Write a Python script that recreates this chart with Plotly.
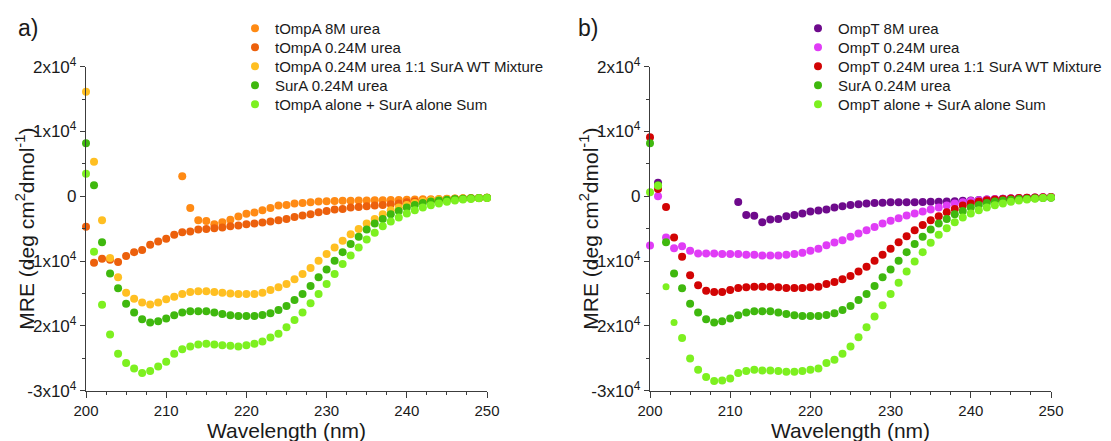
import plotly.graph_objects as go

# Wavelength axis (nm), one reading per nm
wavelength = list(range(200, 251))

# ---- Panel a) tOmpA / SurA ----
tompa_8m = [None] * 12 + [
    3100, -1800, -3700, -3800, -4300, -4000, -3600, -3100, -2700, -2500,
    -2150, -1800, -1430, -1350, -1130, -1030, -920, -820, -770, -720,
    -700, -680, -650, -640, -620, -600, -580, -560, -540, -500,
    -470, -440, -410, -380, -350, -320, -290, -260, -230]
tompa_024m = [
    -4700, -10260, -9640, -9800, -10150, -9230, -8620, -8300, -7490, -6970,
    -6560, -5950, -5540, -5440, -5130, -5030, -4920, -4820, -4620, -4500,
    -4300, -4200, -4050, -3900, -3700, -3490, -3180, -2980, -2770, -2460,
    -2260, -2050, -1950, -1740, -1640, -1540, -1430, -1330, -1230, -1130,
    -920, -800, -700, -600, -520, -450, -390, -340, -300, -260, -230]
tompa_sura_mix = [
    16150, 5340, -3690, -9540, -12500, -14870, -15800, -16400, -16700, -16400,
    -15900, -15490, -15080, -14770, -14670, -14670, -14770, -14870, -15000, -15080,
    -15080, -15080, -14870, -14460, -14050, -13540, -12820, -12000, -11080, -9950,
    -8920, -7900, -6870, -5850, -5030, -4200, -3490, -2770, -2150, -1740,
    -1330, -1030, -720, -600, -500, -440, -390, -340, -300, -260, -230]
sura_024m = [
    8200, 1700, -7100, -11900, -14200, -16600, -17950, -18970, -19490, -19280,
    -18870, -18360, -17950, -17740, -17740, -17740, -17950, -18150, -18360, -18460,
    -18460, -18460, -18300, -18050, -17540, -16920, -16000, -15080, -13850, -12510,
    -11280, -9950, -8620, -7380, -6260, -5130, -4200, -3490, -2770, -2260,
    -1740, -1330, -1030, -800, -650, -520, -430, -360, -300, -260, -220]
tompa_sura_sum = [
    3490, -8560, -16720, -21330, -24300, -25740, -26560, -27280, -26970, -26260,
    -25540, -24300, -23590, -23180, -22870, -22770, -22870, -22970, -23080, -23180,
    -22970, -22770, -22410, -21800, -21230, -20200, -19080, -17950, -16510, -15080,
    -13540, -12000, -10460, -9130, -7900, -6670, -5640, -4620, -3900, -3280,
    -2670, -2150, -1740, -1400, -1100, -850, -650, -500, -400, -320, -250]

# ---- Panel b) OmpT / SurA ----
ompt_8m = [None, 2100] + [None] * 9 + [
    -870, -2870, -3000, -4000, -3590, -3490, -3080, -2870, -2670, -2360,
    -2200, -2050, -1740, -1530, -1330, -1230, -1130, -1030, -1000, -920,
    -920, -900, -900, -880, -860, -840, -800, -760, -700, -640,
    -570, -500, -440, -390, -340, -290, -250, -210, -180, -150]
ompt_024m = [
    -7590, 0, -6360, -8000, -7690, -8410, -8820, -8820, -8820, -8920,
    -8920, -8920, -9030, -9030, -9130, -9130, -9130, -9030, -8920, -8720,
    -8410, -8100, -7540, -7130, -6770, -6260, -5740, -5230, -4720, -4200,
    -3790, -3380, -2970, -2670, -2360, -2050, -1740, -1430, -1130, -920,
    -720, -600, -500, -420, -360, -300, -250, -210, -180, -150, -120]
ompt_sura_mix = [
    9120, 1120, -1640, -6360, -9330, -12200, -13740, -14560, -14770, -14770,
    -14460, -14150, -14050, -13950, -13950, -13950, -14050, -14150, -14150, -14150,
    -14050, -13950, -13540, -13230, -12820, -12310, -11590, -10870, -9950, -9030,
    -8100, -7080, -6150, -5230, -4410, -3690, -3080, -2460, -1950, -1430,
    -1130, -820, -600, -480, -400, -330, -270, -220, -180, -150, -120]
ompt_sura_sum = [
    620, 1640, -13950, -19490, -21850, -25030, -26770, -27900, -28510, -28410,
    -28100, -27280, -26970, -26770, -26870, -26870, -26970, -27080, -27080, -26970,
    -26770, -26560, -25740, -25230, -24300, -23180, -21740, -20200, -18560, -16820,
    -15080, -13330, -11590, -10050, -8620, -7180, -5950, -4920, -4000, -3280,
    -2670, -2150, -1740, -1400, -1100, -850, -650, -500, -380, -280, -200]

y_tick_vals = [-30000, -20000, -10000, 0, 10000, 20000]
y_tick_text = ["-3x10<sup>4</sup>", "-2x10<sup>4</sup>", "-1x10<sup>4</sup>", "0",
               "1x10<sup>4</sup>", "2x10<sup>4</sup>"]

W, H = 1111, 441
FONT = "Liberation Sans, Arial, sans-serif"
AXIS_COLOR = "#3c3c3c"
TEXT_COLOR = "#1a1a1a"
MARKER_SIZE = 8


def fx(px):
    return px / W


def fy(py):
    return 1 - py / H


# the 202/203 nm readings of the OmpT sum trace are plotted with smaller dots
ompt_sum_sizes = [MARKER_SIZE] * len(wavelength)
for wl in (202, 203):
    ompt_sum_sizes[wavelength.index(wl)] = 7

panel_a = [
    ("tOmpA 8M urea", tompa_8m, "#FF8A14", MARKER_SIZE),
    ("tOmpA 0.24M urea", tompa_024m, "#EC600C", MARKER_SIZE),
    ("tOmpA 0.24M urea 1:1 SurA WT Mixture", tompa_sura_mix, "#FFBF22", MARKER_SIZE),
    ("SurA 0.24M urea", sura_024m, "#3FB80E", MARKER_SIZE),
    ("tOmpA alone + SurA alone Sum", tompa_sura_sum, "#7DF020", MARKER_SIZE),
]
panel_b = [
    ("OmpT 8M urea", ompt_8m, "#6E0A8C", MARKER_SIZE),
    ("OmpT 0.24M urea", ompt_024m, "#E03CF6", MARKER_SIZE),
    ("OmpT 0.24M urea 1:1 SurA WT Mixture", ompt_sura_mix, "#D20404", MARKER_SIZE),
    ("SurA 0.24M urea", sura_024m, "#3FB80E", MARKER_SIZE),
    ("OmpT alone + SurA alone Sum", ompt_sura_sum, "#7DF020", ompt_sum_sizes),
]

fig = go.Figure()
legend_layouts = {}
row_y0, row_dy = 28.5, 19.0
n = 0
for panel_idx, (series, sym_x) in enumerate([(panel_a, 254), (panel_b, 817)]):
    xa = "x" if panel_idx == 0 else "x2"
    ya = "y" if panel_idx == 0 else "y2"
    for i, (name, vals, color, size) in enumerate(series):
        n += 1
        lg = "legend" if n == 1 else f"legend{n}"
        fig.add_trace(go.Scatter(
            x=wavelength, y=vals, name=name, mode="markers",
            marker=dict(size=size, color=color, opacity=1, line=dict(width=0)),
            xaxis=xa, yaxis=ya, cliponaxis=False, legend=lg,
        ))
        legend_layouts[lg] = dict(
            x=fx(sym_x - 19), y=fy(row_y0 + row_dy * i),
            xanchor="left", yanchor="middle",
            bgcolor="rgba(0,0,0,0)", borderwidth=0,
            font=dict(family=FONT, size=15, color=TEXT_COLOR),
            itemsizing="trace",
        )

x_common = dict(
    range=[200, 250], showline=True, linecolor=AXIS_COLOR, linewidth=1.3,
    ticks="outside", ticklen=6, tickwidth=1.3, tickcolor=AXIS_COLOR,
    tickmode="linear", tick0=200, dtick=10,
    minor=dict(ticks="outside", ticklen=3.5, tickwidth=1.1, tickcolor=AXIS_COLOR,
               tickmode="linear", tick0=200, dtick=2.5),
    showgrid=False, zeroline=False, automargin=False,
    tickfont=dict(family=FONT, size=15, color=TEXT_COLOR),
)
y_common = dict(
    range=[-30000, 20000], domain=[fy(390.7), fy(66.7)],
    showline=True, linecolor=AXIS_COLOR, linewidth=1.3,
    ticks="outside", ticklen=5, tickwidth=1.3, tickcolor=AXIS_COLOR,
    tickmode="array", tickvals=y_tick_vals, ticktext=y_tick_text,
    minor=dict(ticks="outside", ticklen=3, tickwidth=1.1, tickcolor=AXIS_COLOR,
               tickvals=[-25000, -15000, -5000, 5000, 15000]),
    showgrid=False, zeroline=False, automargin=False,
    tickfont=dict(family=FONT, size=17, color=TEXT_COLOR),
)

annotations = []
for x0, x1, label, label_x in [(86, 487, "a)", 27.5), (650, 1051, "b)", 587.5)]:
    annotations.append(dict(
        text="Wavelength (nm)", x=fx((x0 + x1) / 2), y=fy(430),
        xref="paper", yref="paper", xanchor="center", yanchor="middle",
        showarrow=False, font=dict(family=FONT, size=21, color=TEXT_COLOR)))
    annotations.append(dict(
        text="MRE (deg cm<sup>2</sup>dmol<sup>-1</sup>)", textangle=-90,
        x=fx(x0 - 61), y=fy(228.7),
        xref="paper", yref="paper", xanchor="center", yanchor="middle",
        showarrow=False, font=dict(family=FONT, size=21, color=TEXT_COLOR)))
    annotations.append(dict(
        text=label, x=fx(label_x), y=fy(28.5),
        xref="paper", yref="paper", xanchor="center", yanchor="middle",
        showarrow=False, font=dict(family=FONT, size=23, color=TEXT_COLOR)))

fig.update_layout(
    width=W, height=H, margin=dict(l=0, r=0, t=0, b=0),
    paper_bgcolor="white", plot_bgcolor="white",
    xaxis=dict(x_common, domain=[fx(86), fx(487)], anchor="y"),
    yaxis=dict(y_common, anchor="x"),
    xaxis2=dict(x_common, domain=[fx(650), fx(1051)], anchor="y2"),
    yaxis2=dict(y_common, anchor="x2"),
    annotations=annotations,
    showlegend=True,
    **legend_layouts,
)

fig.write_html("out.html")
